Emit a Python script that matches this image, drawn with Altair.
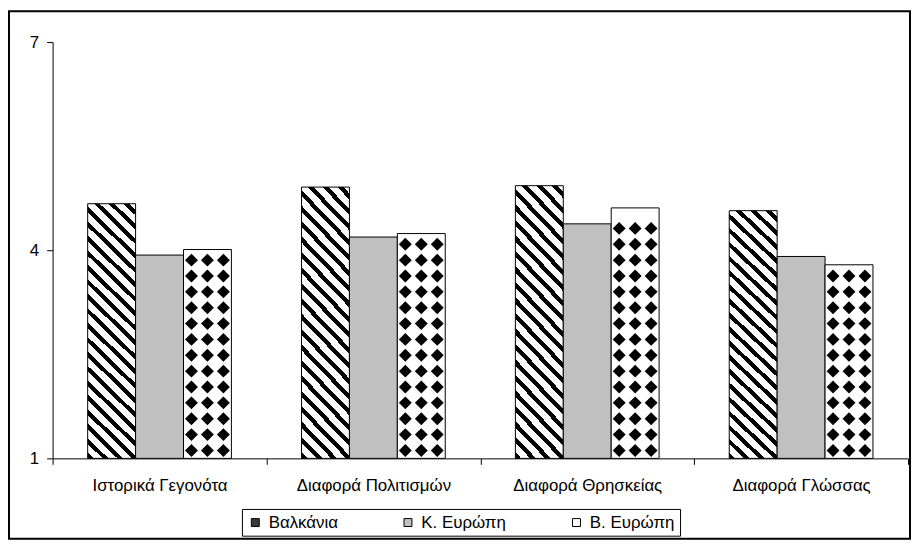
import math
import altair as alt
import pandas as pd

# ---------------- data ----------------
categories = ["Ιστορικά Γεγονότα", "Διαφορά Πολιτισμών", "Διαφορά Θρησκείας", "Διαφορά Γλώσσας"]
series = ["Βαλκάνια", "Κ. Ευρώπη", "Β. Ευρώπη"]
balkans = [4.67, 4.91, 4.93, 4.57]
central_europe = [3.93, 4.19, 4.38, 3.91]
northern_europe = [4.01, 4.24, 4.61, 3.79]
y_ticks = [1, 4, 7]
legend_colors = ["#3a3a3a", "#C0C0C0", "#ffffff"]

rows = []
for s, vals in zip(series, [balkans, central_europe, northern_europe]):
    for c, v in zip(categories, vals):
        rows.append({"cat": c, "series": s, "value": v})
df = pd.DataFrame(rows)

# ---------------- layout (cell = outer frame) ----------------
W, H = 909, 532
X0, X1 = 44, 907          # plot range inside the frame
Y_TOP, Y_BOT = 31, 451
ppu = (Y_BOT - Y_TOP) / (y_ticks[-1] - y_ticks[0])
group_w = (X1 - X0) / len(categories)
OFF_PAD = 0.732
bar_w = group_w / (len(series) + 2 * OFF_PAD)
FS = 17

# ---------------- diagonal stripe gradient (Βαλκάνια) ----------------
def diag_gradient(w, h, period, black):
    L = w + h
    k = L / (w * w + h * h)
    x2, y2 = w * k, 1 - h * k
    stops = []
    n = int(math.ceil(L / period)) + 1
    for i in range(n):
        a = i * period / L
        b = (i * period + black) / L
        c = (i + 1) * period / L
        for off, col in [(a, "black"), (b, "black"), (b, "white"), (c, "white")]:
            stops.append(alt.GradientStop(offset=round(min(off, 1.0), 5), color=col))
    return alt.LinearGradient(gradient="linear", stops=stops, x1=0, y1=1,
                              x2=round(x2, 5), y2=round(y2, 5))

mean_h = sum((v - 1) * ppu for v in balkans) / len(balkans)
stripes = diag_gradient(bar_w, mean_h, 15, 6)

# ---------------- diamond pattern points (Β. Ευρώπη) ----------------
sub_w = bar_w / 3
n_slots = 13
sub_slots = [f"s{i:02d}" for i in range(n_slots)]
SUB_PAD = (group_w / sub_w - n_slots) / 2
first = int(round(OFF_PAD * 3 - SUB_PAD)) + 6
spacing = 16
rad = 6.5
drows = []
for c, v in zip(categories, northern_europe):
    hp = (v - 1) * ppu
    j = 0
    while (j + 0.5) * spacing + rad <= hp:
        yv = 1 + (j + 0.5) * spacing / ppu
        for slot in sub_slots[first:first + 3]:
            drows.append({"cat": c, "slot": slot, "y": yv})
        j += 1
ddf = pd.DataFrame(drows)

# ---------------- encodings ----------------
font = "Liberation Sans"
x_enc = alt.X("cat:N", sort=categories,
              scale=alt.Scale(domain=categories, range=[X0, X1], paddingInner=0, paddingOuter=0),
              axis=alt.Axis(title=None, offset=-(H - Y_BOT), tickBand="extent", tickSize=6,
                            labelPadding=13, labelAngle=0, labelFontSize=FS, labelLimit=0,
                            labelFont=font, labelColor="black", domainColor="black",
                            tickColor="black", grid=False))
y_scale = alt.Scale(domain=[y_ticks[0], y_ticks[-1]], range=[Y_BOT, Y_TOP], zero=False, nice=False)
y_enc = alt.Y("value:Q", scale=y_scale,
              axis=alt.Axis(title=None, values=y_ticks, format="d", offset=-X0, tickSize=6,
                            labelPadding=8, labelFontSize=FS, labelFont=font, labelColor="black",
                            domainColor="black", tickColor="black", grid=False))
off_enc = alt.XOffset("series:N", sort=series,
                      scale=alt.Scale(type="band", domain=series, paddingInner=0,
                                      paddingOuter=OFF_PAD))

base = alt.Chart(df).encode(x=x_enc, y=y_enc, y2=alt.datum(1), xOffset=off_enc)

bal = base.transform_filter(alt.datum.series == series[0]).mark_bar(
    fill=stripes, stroke="black", strokeWidth=1)
cen = base.transform_filter(alt.datum.series == series[1]).mark_bar(
    fill="#C0C0C0", stroke="black", strokeWidth=1)
nor = base.transform_filter(alt.datum.series == series[2]).mark_bar(
    fill="white", stroke="black", strokeWidth=1)

diamonds = alt.Chart(ddf).mark_point(shape="diamond", filled=True, color="black",
                                     size=(2 * rad) ** 2, opacity=1, strokeWidth=0).encode(
    x=alt.X("cat:N", sort=categories),
    y=alt.Y("y:Q", scale=y_scale),
    xOffset=alt.XOffset("slot:N", scale=alt.Scale(type="band", domain=sub_slots,
                                                   paddingInner=0, paddingOuter=SUB_PAD)),
)

legend_layer = alt.Chart(df).mark_point(filled=True, opacity=0).encode(
    x=alt.X("cat:N", sort=categories),
    y=alt.Y("value:Q", scale=y_scale),
    xOffset=off_enc,
    color=alt.Color("series:N", sort=series,
                    scale=alt.Scale(domain=series, range=legend_colors),
                    legend=alt.Legend(title=None, orient="none", legendX=235, legendY=502,
                                      direction="horizontal", symbolType="square",
                                      symbolSize=64, symbolStrokeColor="black",
                                      symbolStrokeWidth=1, symbolOpacity=1,
                                      labelFont=font, labelFontSize=FS, labelColor="black",
                                      labelOffset=5, columnPadding=62, padding=5,
                                      strokeColor="black", fillColor="white")),
)

chart = alt.layer(bal, cen, nor, diamonds, legend_layer).resolve_scale(
    xOffset="independent"
).properties(
    width=W, height=H, padding=1, background="white"
).configure_view(stroke="black", strokeWidth=2)

chart.save("out.html", embed_options={"renderer": "svg", "actions": False})
